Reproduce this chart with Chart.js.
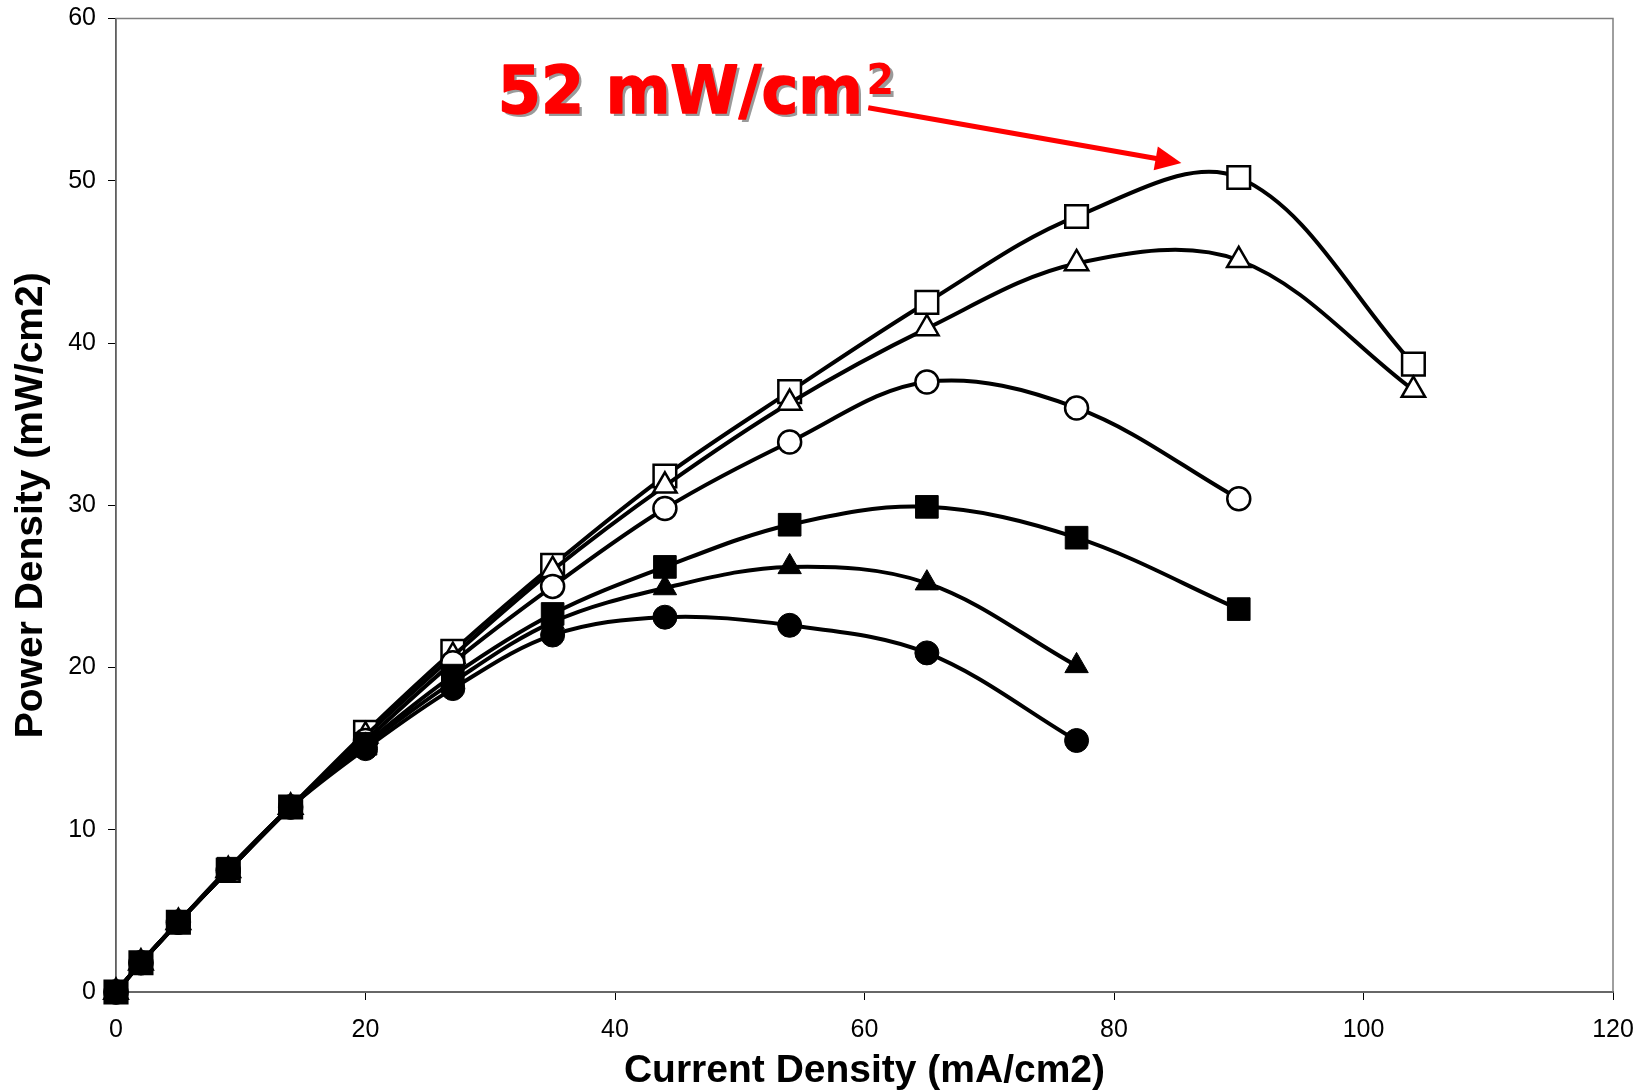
<!DOCTYPE html>
<html>
<head>
<meta charset="utf-8">
<script src="https://cdn.jsdelivr.net/npm/chart.js@4/dist/chart.umd.min.js"></script>
<style>
  html, body { margin: 0; padding: 0; background: #fff; }
  #wrap { width: 1642px; height: 1091px; position: relative; }
</style>
</head>
<body>
<div id="wrap"><canvas id="c"></canvas></div>
<script>
// ---- data ----
const currentDensity = [0, 2, 5, 9, 14, 20, 27, 35, 44, 54, 65, 77, 90, 104];
const openSquare     = [0, 1.8, 4.3, 7.5, 11.4, 16.0, 21.0, 26.3, 31.8, 37.0, 42.5, 47.8, 50.2, 38.7];
const openTriangle   = [0, 1.8, 4.3, 7.5, 11.4, 15.8, 20.7, 26.0, 31.2, 36.3, 40.9, 44.9, 45.1, 37.1];
const openCircle     = [0, 1.8, 4.3, 7.5, 11.4, 15.5, 20.3, 25.0, 29.8, 33.9, 37.6, 36.0, 30.4];
const filledSquare   = [0, 1.8, 4.3, 7.6, 11.4, 15.3, 19.5, 23.3, 26.2, 28.8, 29.9, 28.0, 23.6];
const filledTriangle = [0, 1.8, 4.3, 7.5, 11.4, 15.2, 19.1, 22.8, 24.9, 26.2, 25.2, 20.1];
const filledCircle   = [0, 1.8, 4.3, 7.5, 11.4, 15.0, 18.7, 22.0, 23.1, 22.6, 20.9, 15.5];

const xTitle = "Current Density (mA/cm2)";
const yTitle = "Power Density (mW/cm2)";

// annotation (data coordinates)
const annotationText = "52 mW/cm";
const annotationSup = "2";
const annotationAt = [30.6, 54.2];
const arrowFrom = [60.3, 54.5];
const arrowTo = [85.4, 51.1];

function pts(ys) { return ys.map((y, i) => ({ x: currentDensity[i], y })); }

function ds(label, ys, style, radius, filled, order) {
  return {
    label,
    data: pts(ys),
    borderColor: '#000',
    borderWidth: 4,
    tension: 0.35,
    fill: false,
    clip: false,
    order,
    pointStyle: style,
    pointRadius: radius,
    pointBackgroundColor: filled ? '#000' : '#fff',
    pointBorderColor: '#000',
    pointBorderWidth: filled ? 1 : 2.5,
  };
}

const framePlugin = {
  id: 'frame',
  beforeDatasetsDraw(chart) {
    const { ctx, chartArea: a } = chart;
    ctx.save();
    ctx.strokeStyle = '#7f7f7f';
    ctx.lineWidth = 1.5;
    ctx.strokeRect(a.left, a.top, a.right - a.left, a.bottom - a.top);
    ctx.restore();
  }
};

const annotationPlugin = {
  id: 'annot',
  afterDatasetsDraw(chart) {
    const { ctx, scales: { x, y } } = chart;
    ctx.save();
    // arrow
    const x0 = x.getPixelForValue(arrowFrom[0]), y0 = y.getPixelForValue(arrowFrom[1]);
    const x1 = x.getPixelForValue(arrowTo[0]), y1 = y.getPixelForValue(arrowTo[1]);
    const dx = x1 - x0, dy = y1 - y0, len = Math.hypot(dx, dy);
    const ux = dx / len, uy = dy / len;
    const headL = 26, headW = 12;
    const bx = x1 - ux * headL, by = y1 - uy * headL;
    ctx.strokeStyle = '#ff0000';
    ctx.fillStyle = '#ff0000';
    ctx.lineWidth = 5;
    ctx.beginPath();
    ctx.moveTo(x0, y0);
    ctx.lineTo(bx + ux * 2, by + uy * 2);
    ctx.stroke();
    ctx.beginPath();
    ctx.moveTo(x1, y1);
    ctx.lineTo(bx - uy * headW, by + ux * headW);
    ctx.lineTo(bx + uy * headW, by - ux * headW);
    ctx.closePath();
    ctx.fill();

    // text with shadow
    const tx = x.getPixelForValue(annotationAt[0]);
    const ty = y.getPixelForValue(annotationAt[1]);
    ctx.translate(tx, ty);
    ctx.scale(0.94, 1);
    ctx.textBaseline = 'alphabetic';
    ctx.textAlign = 'left';
    ctx.font = 'bold 66px "DejaVu Sans"';
    ctx.shadowColor = 'rgba(120,120,120,0.75)';
    ctx.shadowOffsetX = 3;
    ctx.shadowOffsetY = 3;
    ctx.shadowBlur = 0;
    ctx.fillStyle = '#ff0000';
    ctx.lineWidth = 1.5;
    ctx.lineJoin = 'round';
    ctx.fillText(annotationText, 0, 0);
    ctx.shadowColor = 'rgba(0,0,0,0)';
    ctx.strokeText(annotationText, 0, 0);
    const w = ctx.measureText(annotationText).width;
    ctx.font = 'bold 42px "DejaVu Sans"';
    ctx.shadowColor = 'rgba(120,120,120,0.75)';
    ctx.fillText(annotationSup, w + 4, -19);
    ctx.restore();
  }
};

const tickFont = { family: '"Liberation Sans", Arial, sans-serif', size: 25 };
const xTitleFont = { family: '"Liberation Sans", Arial, sans-serif', size: 39, weight: 'bold', lineHeight: 1.0 };
const yTitleFont = { family: '"Liberation Sans", Arial, sans-serif', size: 39, weight: 'bold' };

new Chart(document.getElementById('c'), {
  type: 'line',
  data: {
    datasets: [
      ds('filled square', filledSquare, 'rect', 16, true, 0),
      ds('filled circle', filledCircle, 'circle', 12, true, 1),
      ds('filled triangle', filledTriangle, 'triangle', 13.5, true, 2),
      ds('open circle', openCircle, 'circle', 11.5, false, 3),
      ds('open triangle', openTriangle, 'triangle', 13.5, false, 4),
      ds('open square', openSquare, 'rect', 16, false, 5),
    ]
  },
  options: {
    responsive: true,
    maintainAspectRatio: false,
    animation: false,
    events: [],
    layout: { padding: { left: 0, right: 29, top: 18, bottom: 0 } },
    plugins: { legend: { display: false }, tooltip: { enabled: false } },
    scales: {
      x: {
        type: 'linear',
        min: 0, max: 120,
        ticks: { stepSize: 20, color: '#000', font: tickFont, padding: 15, maxRotation: 0 },
        grid: { drawOnChartArea: false, drawTicks: true, tickLength: 8, color: '#000', tickWidth: 1 },
        border: { color: '#222', width: 2 },
        title: { display: true, text: xTitle, color: '#000', font: xTitleFont, padding: { top: 0, bottom: 0 } },
        afterFit(s) { s.height = 99; s.paddingLeft = 0; s.paddingRight = 0; }
      },
      y: {
        type: 'linear',
        min: 0, max: 60,
        ticks: { stepSize: 10, color: '#000', font: tickFont, padding: 12 },
        grid: { drawOnChartArea: false, drawTicks: true, tickLength: 8, color: '#000', tickWidth: 1 },
        border: { color: '#000', width: 1.5 },
        title: { display: true, text: yTitle, color: '#000', font: yTitleFont, padding: { top: 8, bottom: 0 } },
        afterFit(s) { s.width = 116; s.paddingTop = 0; s.paddingBottom = 0; }
      }
    }
  },
  plugins: [framePlugin, annotationPlugin]
});
</script>
</body>
</html>
